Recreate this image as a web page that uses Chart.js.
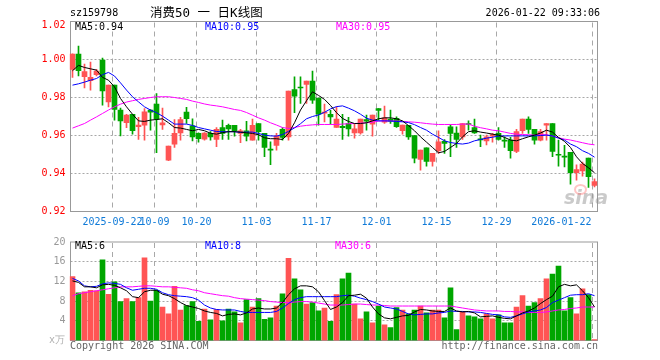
<!DOCTYPE html>
<html><head><meta charset="utf-8">
<script src="https://cdn.jsdelivr.net/npm/chart.js@4/dist/chart.umd.min.js"></script>
<style>
body{margin:0;background:#fff;}
#wrap{position:relative;width:660px;height:360px;overflow:hidden;background:#fff;font-family:'DejaVu Sans Mono',monospace;}
canvas{position:absolute;left:0;}
.t{position:absolute;white-space:nowrap;font-family:'DejaVu Sans Mono',monospace;font-size:10px;line-height:12px;}
</style></head><body>
<div id="wrap">
<canvas id="pc" width="660" height="232" style="top:0"></canvas>
<canvas id="vc" width="660" height="128" style="top:232px"></canvas>
<div class="t" style="left:70px;top:7px;color:#000">sz159798</div>
<div class="t" style="left:150px;top:5px;font-family:'DejaVu Sans Mono','Noto Sans CJK SC';font-size:12.5px;line-height:16px;color:#000">消费50 一 日K线图</div>
<div class="t" style="right:60px;top:7px;color:#000">2026-01-22 09:33:06</div>
<div class="t" style="left:75px;top:21px;color:#000">MA5:0.94</div>
<div class="t" style="left:205px;top:21px;color:#0000ff">MA10:0.95</div>
<div class="t" style="left:336px;top:21px;color:#ff00ff">MA30:0.95</div>
<div class="t" style="left:75px;top:240px;color:#000">MA5:6</div>
<div class="t" style="left:205px;top:240px;color:#0000ff">MA10:8</div>
<div class="t" style="left:335px;top:240px;color:#ff00ff">MA30:6</div>
<div class="t" style="left:49px;top:334px;color:#b0b0b0">x万</div>
<div class="t" style="left:70px;top:340px;color:#666">Copyright 2026 SINA.COM</div>
<div class="t" style="right:62px;top:340px;color:#666">http://finance.sina.com.cn</div>
<div class="t" style="left:564px;top:187px;font-family:'DejaVu Sans';font-style:italic;font-weight:bold;font-size:19px;line-height:20px;color:rgba(150,150,150,0.5)">sina</div>
<div style="position:absolute;left:574px;top:184px;width:9px;height:7px;border-radius:50%;border:2px solid rgba(255,90,90,0.35)"></div>
</div>
<script>
const categories = ['2025-09-11','2025-09-12','2025-09-15','2025-09-16','2025-09-17','2025-09-18','2025-09-19',
'2025-09-22','2025-09-23','2025-09-24','2025-09-25','2025-09-26','2025-09-29','2025-09-30',
'2025-10-09','2025-10-10','2025-10-13','2025-10-14','2025-10-15','2025-10-16','2025-10-17',
'2025-10-20','2025-10-21','2025-10-22','2025-10-23','2025-10-24','2025-10-27','2025-10-28','2025-10-29','2025-10-30','2025-10-31',
'2025-11-03','2025-11-04','2025-11-05','2025-11-06','2025-11-07','2025-11-10','2025-11-11','2025-11-12','2025-11-13','2025-11-14',
'2025-11-17','2025-11-18','2025-11-19','2025-11-20','2025-11-21','2025-11-24','2025-11-25','2025-11-26','2025-11-27','2025-11-28',
'2025-12-01','2025-12-02','2025-12-03','2025-12-04','2025-12-05','2025-12-08','2025-12-09','2025-12-10','2025-12-11','2025-12-12',
'2025-12-15','2025-12-16','2025-12-17','2025-12-18','2025-12-19','2025-12-22','2025-12-23','2025-12-24','2025-12-25','2025-12-26',
'2025-12-29','2025-12-30','2025-12-31','2026-01-05','2026-01-06','2026-01-07','2026-01-08','2026-01-09',
'2026-01-12','2026-01-13','2026-01-14','2026-01-15','2026-01-16','2026-01-19','2026-01-20','2026-01-21','2026-01-22'];

const opens = [0.9948,1.0028,0.9909,0.9888,0.9920,0.9997,0.9777,0.9865,0.9734,0.9667,
0.9712,0.9646,0.9655,0.9734,0.9765,0.9656,0.9470,0.9555,0.9614,0.9723,
0.9651,0.9611,0.9581,0.9611,0.9579,0.9642,0.9653,0.9653,0.9611,0.9625,
0.9576,0.9663,0.9611,0.9529,0.9548,0.9632,0.9593,0.9842,0.9855,0.9869,
0.9886,0.9797,0.9718,0.9712,0.9642,0.9648,0.9663,0.9614,0.9614,0.9684,
0.9660,0.9742,0.9670,0.9686,0.9691,0.9625,0.9653,0.9600,0.9474,0.9535,
0.9463,0.9520,0.9569,0.9646,0.9613,0.9593,0.9662,0.9642,0.9581,0.9572,
0.9597,0.9611,0.9574,0.9576,0.9516,0.9625,0.9686,0.9632,0.9576,0.9655,
0.9663,0.9500,0.9490,0.9512,0.9404,0.9414,0.9481,0.9337];
const highs = [1.0030,1.0070,0.9976,0.9986,0.9948,1.0007,0.9865,0.9865,0.9744,0.9712,
0.9712,0.9695,0.9742,0.9737,0.9821,0.9744,0.9544,0.9684,0.9695,0.9748,
0.9688,0.9614,0.9616,0.9621,0.9642,0.9681,0.9660,0.9653,0.9632,0.9674,
0.9686,0.9663,0.9611,0.9567,0.9611,0.9642,0.9834,0.9909,0.9909,0.9886,
0.9939,0.9797,0.9765,0.9732,0.9751,0.9712,0.9695,0.9663,0.9686,0.9707,
0.9707,0.9742,0.9755,0.9734,0.9698,0.9655,0.9653,0.9600,0.9523,0.9535,
0.9506,0.9625,0.9579,0.9656,0.9646,0.9663,0.9677,0.9686,0.9602,0.9602,
0.9611,0.9642,0.9593,0.9590,0.9632,0.9686,0.9698,0.9632,0.9632,0.9663,
0.9663,0.9576,0.9548,0.9512,0.9446,0.9460,0.9481,0.9372];
const lows = [0.9906,0.9913,0.9851,0.9839,0.9913,0.9760,0.9751,0.9681,0.9598,0.9641,
0.9607,0.9579,0.9576,0.9628,0.9509,0.9632,0.9467,0.9537,0.9576,0.9663,
0.9572,0.9565,0.9576,0.9576,0.9541,0.9579,0.9579,0.9597,0.9562,0.9572,
0.9576,0.9576,0.9488,0.9446,0.9523,0.9576,0.9576,0.9720,0.9769,0.9769,
0.9769,0.9655,0.9672,0.9660,0.9642,0.9579,0.9597,0.9586,0.9607,0.9628,
0.9597,0.9681,0.9663,0.9663,0.9642,0.9607,0.9579,0.9456,0.9418,0.9439,
0.9439,0.9506,0.9506,0.9488,0.9537,0.9579,0.9628,0.9611,0.9541,0.9551,
0.9565,0.9576,0.9537,0.9481,0.9509,0.9611,0.9611,0.9555,0.9572,0.9576,
0.9488,0.9439,0.9435,0.9344,0.9365,0.9386,0.9327,0.9330];
const closes = [1.0028,0.9941,0.9937,0.9906,0.9939,0.9835,0.9865,0.9737,0.9677,0.9707,
0.9625,0.9655,0.9725,0.9723,0.9686,0.9667,0.9544,0.9611,0.9684,0.9688,
0.9593,0.9583,0.9613,0.9593,0.9632,0.9611,0.9635,0.9625,0.9625,0.9597,
0.9653,0.9620,0.9537,0.9523,0.9597,0.9590,0.9834,0.9807,0.9850,0.9886,
0.9786,0.9712,0.9722,0.9698,0.9686,0.9641,0.9635,0.9635,0.9686,0.9676,
0.9707,0.9732,0.9693,0.9676,0.9646,0.9655,0.9593,0.9481,0.9523,0.9463,
0.9506,0.9567,0.9558,0.9611,0.9579,0.9663,0.9658,0.9614,0.9577,0.9593,
0.9605,0.9579,0.9570,0.9520,0.9621,0.9686,0.9632,0.9576,0.9621,0.9663,
0.9516,0.9496,0.9486,0.9404,0.9421,0.9449,0.9383,0.9358];

const ma5 = [0.9941,0.9969,0.9958,0.9951,0.9944,0.9906,0.9891,0.9856,0.9795,0.9751,
0.9712,0.9677,0.9674,0.9681,0.9684,0.9688,0.9667,0.9642,0.9639,0.9632,
0.9625,0.9632,0.9625,0.9612,0.9607,0.9615,0.9620,0.9620,0.9618,0.9614,
0.9611,0.9604,0.9588,0.9583,0.9583,0.9579,0.9611,0.9667,0.9734,0.9783,
0.9830,0.9811,0.9790,0.9758,0.9720,0.9690,0.9674,0.9663,0.9663,0.9667,
0.9677,0.9688,0.9693,0.9693,0.9688,0.9677,0.9652,0.9625,0.9593,0.9565,
0.9537,0.9509,0.9516,0.9537,0.9558,0.9593,0.9620,0.9625,0.9618,0.9613,
0.9607,0.9602,0.9590,0.9576,0.9572,0.9583,0.9593,0.9602,0.9613,0.9628,
0.9618,0.9590,0.9569,0.9537,0.9488,0.9453,0.9430,0.9404];
const ma10 = [0.9865,0.9872,0.9881,0.9891,0.9900,0.9920,0.9932,0.9913,0.9877,0.9839,
0.9804,0.9777,0.9751,0.9734,0.9720,0.9702,0.9681,0.9660,0.9660,0.9660,
0.9653,0.9642,0.9635,0.9628,0.9621,0.9620,0.9620,0.9620,0.9616,0.9618,
0.9618,0.9611,0.9602,0.9598,0.9597,0.9605,0.9622,0.9640,0.9662,0.9688,
0.9700,0.9708,0.9722,0.9740,0.9752,0.9756,0.9744,0.9730,0.9712,0.9691,
0.9681,0.9677,0.9677,0.9676,0.9674,0.9672,0.9668,0.9657,0.9642,0.9628,
0.9607,0.9590,0.9572,0.9563,0.9558,0.9555,0.9560,0.9572,0.9579,0.9586,
0.9591,0.9597,0.9598,0.9598,0.9598,0.9598,0.9598,0.9598,0.9600,0.9602,
0.9598,0.9586,0.9576,0.9555,0.9541,0.9520,0.9506,0.9486];
const ma30 = [0.9639,0.9651,0.9663,0.9681,0.9698,0.9716,0.9734,0.9751,0.9765,0.9776,
0.9783,0.9790,0.9795,0.9800,0.9804,0.9804,0.9804,0.9800,0.9795,0.9790,
0.9781,0.9774,0.9766,0.9760,0.9756,0.9751,0.9744,0.9737,0.9732,0.9721,
0.9707,0.9693,0.9681,0.9667,0.9655,0.9642,0.9637,0.9642,0.9649,0.9653,
0.9656,0.9658,0.9658,0.9658,0.9658,0.9660,0.9662,0.9663,0.9665,0.9667,
0.9670,0.9676,0.9677,0.9677,0.9676,0.9674,0.9672,0.9670,0.9667,0.9663,
0.9660,0.9658,0.9658,0.9658,0.9658,0.9660,0.9660,0.9649,0.9641,0.9635,
0.9628,0.9625,0.9618,0.9611,0.9607,0.9605,0.9604,0.9602,0.9604,0.9604,
0.9597,0.9588,0.9581,0.9576,0.9569,0.9562,0.9555,0.9551];

const volumes = [13.0,9.7,9.9,10.2,10.1,16.4,9.4,11.9,7.9,8.5,
7.9,8.7,16.8,8.0,10.2,6.8,5.4,11.0,6.2,7.1,
7.9,3.9,6.4,4.2,6.3,4.0,6.4,5.8,3.6,8.3,
6.8,8.5,4.3,4.6,7.0,9.5,16.7,12.5,10.3,7.4,
7.7,6.0,6.6,3.9,9.3,12.5,13.7,7.4,4.4,5.8,
3.6,7.0,3.2,2.6,6.7,6.2,5.4,6.2,7.0,5.6,
6.2,6.2,4.6,10.7,2.2,5.8,5.0,4.8,4.4,5.4,
4.4,5.2,3.6,3.6,6.8,9.1,7.0,7.7,8.5,12.5,
13.5,15.1,6.0,8.7,5.4,10.5,9.3,0.2];
const volMa5 = [12.1,11.8,10.9,10.9,10.7,11.3,11.4,11.2,10.7,10.1,
8.9,8.7,9.9,10.2,10.2,9.4,9.1,8.5,7.7,7.1,
6.8,6.5,6.0,5.7,5.5,5.0,5.3,5.4,5.2,5.6,
6.4,6.6,6.4,6.4,6.6,7.7,9.3,10.5,11.1,11.1,
10.9,9.9,8.1,6.3,6.8,7.7,9.1,9.2,9.4,8.6,
6.8,5.4,4.6,4.4,4.7,5.0,5.1,5.8,6.3,6.2,
6.0,5.9,5.9,6.6,6.0,5.8,5.9,5.6,4.8,4.9,
5.0,4.7,4.5,4.4,5.0,5.6,6.0,6.6,7.5,8.3,
9.0,10.9,11.4,11.1,11.3,10.1,8.7,6.8];
const volMa10 = [12.6,12.1,11.1,10.9,11.0,11.5,11.7,11.6,11.4,10.7,
10.2,10.4,10.6,10.6,10.4,9.7,9.3,9.1,9.0,8.9,
8.7,8.2,7.2,6.6,6.3,6.2,6.2,6.2,5.9,5.7,
5.7,5.7,5.7,5.7,5.9,6.6,7.5,8.3,8.7,8.9,
8.9,8.9,8.9,8.9,8.9,9.1,9.2,9.0,8.6,8.3,
7.9,7.4,6.8,6.6,6.4,5.9,5.4,5.2,5.3,5.4,
5.4,5.6,5.7,6.0,5.9,5.9,5.8,5.8,5.7,5.5,
5.3,5.2,4.8,4.7,5.0,5.4,5.8,6.0,6.2,6.7,
7.7,8.2,8.7,9.2,9.3,9.3,9.5,9.1];
const volMa30 = [9.1,9.5,9.7,9.9,10.1,10.3,10.5,10.7,10.9,10.9,
10.9,11.0,11.1,11.1,11.0,10.9,10.9,10.8,10.7,10.6,
10.3,10.1,9.7,9.5,9.3,9.1,9.0,8.7,8.5,8.4,
8.3,8.2,8.1,7.9,7.8,7.7,7.7,7.8,7.9,7.9,
7.8,7.6,7.4,7.2,7.2,7.2,7.3,7.4,7.4,7.3,
7.2,7.2,7.1,7.0,7.0,7.0,7.0,7.0,7.0,7.0,
7.0,7.0,7.0,7.0,6.8,6.6,6.4,6.2,6.1,6.0,
6.0,6.0,5.9,5.9,5.8,5.8,5.7,5.7,5.7,5.8,
6.0,6.2,6.3,6.5,6.6,6.8,6.8,6.8];

const priceTicks = [1.02,1.00,0.98,0.96,0.94,0.92];
const volumeTicks = [20,16,12,8,4];
const xTickDates = ['2025-09-22','2025-10-09','2025-10-20','2025-11-03','2025-11-17','2025-12-01','2025-12-15','2025-12-29','2026-01-22'];
const xTickLabels = ['2025-09-22','10-09','10-20','11-03','11-17','12-01','12-15','12-29','2026-01-22'];

const RED = '#ff5454', GREEN = '#00a600';
const candleColors = closes.map((c,i)=> c >= opens[i] ? RED : GREEN);
const MONO = 'DejaVu Sans Mono';

function gridPlugin(hTicks, isPrice){
  return {
    id:'gridFrame',
    beforeDatasetsDraw(chart){
      const {ctx, chartArea:a, scales:{x,y}} = chart;
      ctx.save();
      ctx.lineWidth = 1;
      ctx.strokeStyle = '#a8a8a8';
      ctx.setLineDash([2,2]);
      hTicks.forEach(v=>{
        if (v <= y.min || v >= y.max) return;
        const py = Math.floor(y.getPixelForValue(v)) + 0.5;
        ctx.beginPath(); ctx.moveTo(a.left+1, py); ctx.lineTo(a.right, py); ctx.stroke();
      });
      ctx.setLineDash([5,4]);
      xTickDates.forEach(d=>{
        const px = Math.floor(x.getPixelForValue(categories.indexOf(d)) - 2) + 0.5;
        ctx.beginPath(); ctx.moveTo(px, a.top+1); ctx.lineTo(px, a.bottom); ctx.stroke();
      });
      ctx.setLineDash([]);
      ctx.strokeStyle = '#999';
      ctx.strokeRect(a.left+1, a.top, a.right-a.left-1, a.bottom-a.top);
      ctx.restore();
    },
    afterDraw(chart){
      if (!isPrice) return;
      const {ctx, chartArea:a, scales:{x,y}} = chart;
      ctx.save();
      ctx.font = '10px "' + MONO + '"';
      // top price label sits just inside the frame top
      ctx.fillStyle = '#ff0000';
      ctx.textAlign = 'right';
      ctx.textBaseline = 'top';
      ctx.fillText(priceTicks[0].toFixed(2), a.left - 4, a.top - 1);
      // date labels
      ctx.fillStyle = '#0f7ad8';
      ctx.textBaseline = 'middle';
      xTickDates.forEach((d,k)=>{
        const gx = x.getPixelForValue(categories.indexOf(d)) - 2;
        const last = k === xTickDates.length-1;
        ctx.textAlign = last ? 'right' : 'center';
        ctx.fillText(xTickLabels[k], last ? gx - 1 : gx, a.bottom + 11);
      });
      ctx.restore();
    }
  };
}

function lineDs(data, color){
  return {type:'line', data, borderColor:color, borderWidth:1, pointRadius:0, tension:0, fill:false, order:0};
}

new Chart(document.getElementById('pc'), {
  type:'bar',
  data:{
    labels:categories,
    datasets:[
      lineDs(ma5,'#000000'),
      lineDs(ma10,'#0000ff'),
      lineDs(ma30,'#ff00ff'),
      {data: categories.map((_,i)=>[opens[i], closes[i]]), backgroundColor:candleColors, barThickness:5, minBarLength:1, grouped:false, order:2, borderWidth:0},
      {data: categories.map((_,i)=>[lows[i], highs[i]]), backgroundColor:candleColors, barThickness:1, grouped:false, order:3, borderWidth:0}
    ]
  },
  options:{
    responsive:false, animation:false, events:[],
    layout:{padding:{left:0,right:62.5,top:21.5,bottom:20.5}},
    plugins:{legend:{display:false}, tooltip:{enabled:false}},
    scales:{
      x:{type:'category', display:false, offset:true},
      y:{min:0.92, max:1.02, position:'left',
         afterFit(s){ s.width = 69.5; },
         afterBuildTicks(s){ s.ticks = priceTicks.map(v=>({value:v})); },
         ticks:{color:'#ff0000', font:{family:MONO, size:10}, padding:4,
                callback:v=> (Number(v) >= priceTicks[0] - 1e-9 ? '' : Number(v).toFixed(2))},
         grid:{display:false, drawTicks:false}, border:{display:false}}
    }
  },
  plugins:[gridPlugin(priceTicks, true)]
});

new Chart(document.getElementById('vc'), {
  type:'bar',
  data:{
    labels:categories,
    datasets:[
      lineDs(volMa5,'#000000'),
      lineDs(volMa10,'#0000ff'),
      lineDs(volMa30,'#ff00ff'),
      {data:volumes, backgroundColor:candleColors, barThickness:5, minBarLength:1, grouped:false, order:2, borderWidth:0}
    ]
  },
  options:{
    responsive:false, animation:false, events:[],
    layout:{padding:{left:0,right:62.5,top:8.5,bottom:19.5}},
    plugins:{legend:{display:false}, tooltip:{enabled:false}},
    scales:{
      x:{type:'category', display:false, offset:true},
      y:{min:0, max:20, position:'left',
         afterFit(s){ s.width = 69.5; },
         afterBuildTicks(s){ s.ticks = volumeTicks.map(v=>({value:v})); },
         ticks:{color:'#999999', font:{family:MONO, size:10}, padding:4},
         grid:{display:false, drawTicks:false}, border:{display:false}}
    }
  },
  plugins:[gridPlugin(volumeTicks, false)]
});
</script>
</body></html>
